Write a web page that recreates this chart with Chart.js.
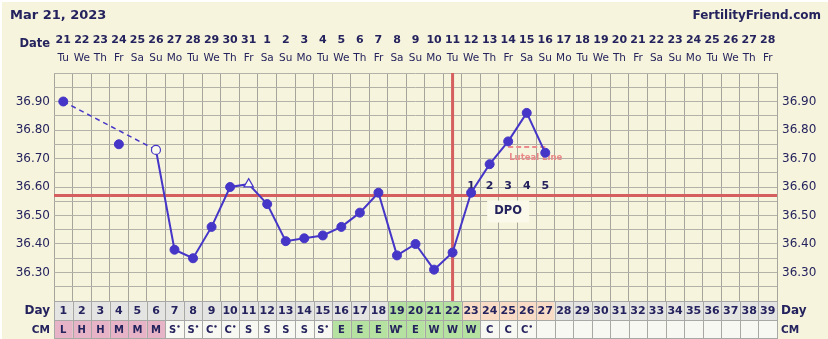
<!DOCTYPE html>
<html>
<head>
<meta charset="utf-8">
<script src="https://cdn.jsdelivr.net/npm/chart.js@4.4.0/dist/chart.umd.min.js"></script>
<style>
    html, body { margin: 0; padding: 0; background: #fff; }
    #wrap { position: relative; width: 828px; height: 339px; }
</style>
</head>
<body>
<div id="wrap"><canvas id="bbt-chart"></canvas></div>
<script>
// BBT chart - Mar 21, 2023 cycle

// =================== DATA ===================
const chartDate = 'Mar 21, 2023';
const siteName = 'FertilityFriend.com';

const dayLabels = ['1', '2', '3', '4', '5', '6', '7', '8', '9', '10', '11', '12', '13', '14', '15', '16', '17', '18', '19', '20',
    '21', '22', '23', '24', '25', '26', '27', '28', '29', '30', '31', '32', '33', '34', '35', '36', '37', '38', '39'];

const dateLabels = ['21', '22', '23', '24', '25', '26', '27', '28', '29', '30', '31', '1', '2', '3', '4', '5', '6', '7', '8', '9',
    '10', '11', '12', '13', '14', '15', '16', '17', '18', '19', '20', '21', '22', '23', '24', '25', '26', '27', '28'];

const weekdayLabels = ['Tu', 'We', 'Th', 'Fr', 'Sa', 'Su', 'Mo', 'Tu', 'We', 'Th', 'Fr', 'Sa', 'Su', 'Mo', 'Tu', 'We', 'Th', 'Fr', 'Sa', 'Su',
    'Mo', 'Tu', 'We', 'Th', 'Fr', 'Sa', 'Su', 'Mo', 'Tu', 'We', 'Th', 'Fr', 'Sa', 'Su', 'Mo', 'Tu', 'We', 'Th', 'Fr'];

// Temperatures (°C), null = no reading
const temps = [36.90, null, null, null, null, 36.73, 36.38, 36.35, 36.46, 36.60,
    36.61, 36.54, 36.41, 36.42, 36.43, 36.46, 36.51, 36.58, 36.36, 36.40,
    36.31, 36.37, 36.58, 36.68, 36.76, 36.86, 36.72, null, null, null,
    null, null, null, null, null, null, null, null, null];

// Discarded reading (not joined to the line)
const discardedTemps = [null, null, null, 36.75, null, null, null, null, null, null,
    null, null, null, null, null, null, null, null, null, null,
    null, null, null, null, null, null, null, null, null, null,
    null, null, null, null, null, null, null, null, null];

const openPointDays = [6];
const trianglePointDays = [11];

const cmCodes = ['L', 'H', 'H', 'M', 'M', 'M', 'S*', 'S*', 'C*', 'C*', 'S', 'S', 'S', 'S', 'S*', 'E', 'E', 'E', 'W*', 'E',
    'W', 'W', 'W', 'C', 'C', 'C*', '', '', '', '', '', '', '', '', '', '', '', '', ''];

const fertileDays = [19, 20, 21, 22];
const dpoLabels = ['', '', '', '', '', '', '', '', '', '', '', '', '', '', '', '', '', '', '', '',
    '', '', '1', '2', '3', '4', '5', '', '', '', '', '', '', '', '', '', '', '', ''];

const coverline = 36.57;
const ovulationDay = 22;
const lutealLine = [null, null, null, null, null, null, null, null, null, null,
    null, null, null, null, null, null, null, null, null, null,
    null, null, null, null, 36.74, 36.74, 36.74, null, null, null,
    null, null, null, null, null, null, null, null, null];

const tempTickLabels = [36.30, 36.40, 36.50, 36.60, 36.70, 36.80, 36.90];
const tempMin = 36.20;
const tempMax = 37.00;

// =================== STYLE ===================
const FONT = "'DejaVu Sans', Verdana, sans-serif";
const CREAM = '#f6f4dc';
const NAVY = '#25235e';
const BLUE = '#4636c8';
const RED = '#d55f5f';
const GRID = '#b3b2a8';

function tickLabel(value) {
    const v = Math.round(value * 100) / 100;
    return tempTickLabels.some(t => Math.abs(t - v) < 0.001) ? v.toFixed(2) : '';
}

function drawText(ctx, text, x, y, font, color, align) {
    ctx.font = font;
    ctx.fillStyle = color;
    ctx.textAlign = align || 'center';
    ctx.textBaseline = 'middle';
    ctx.fillText(text, x, y);
}

// =================== PLUGIN ===================
const ffPlugin = {
    id: 'ffChart',
    beforeDraw(chart) {
        const ctx = chart.ctx;
        ctx.save();
        ctx.fillStyle = '#fff';
        ctx.fillRect(0, 0, chart.width, chart.height);
        ctx.fillStyle = CREAM;
        ctx.fillRect(2, 2, chart.width - 2, chart.height - 2);
        ctx.restore();
    },
    beforeDatasetsDraw(chart) {
        const ctx = chart.ctx;
        const area = chart.chartArea;
        const x = chart.scales.x;
        const y = chart.scales.y;
        ctx.save();

        // Coverline
        const cy = y.getPixelForValue(coverline);
        ctx.strokeStyle = RED;
        ctx.lineWidth = 3;
        ctx.beginPath();
        ctx.moveTo(area.left, cy);
        ctx.lineTo(area.right, cy);
        ctx.stroke();

        // Ovulation line
        const ox = x.getPixelForValue(ovulationDay - 1);
        ctx.beginPath();
        ctx.moveTo(ox, area.top);
        ctx.lineTo(ox, area.bottom);
        ctx.stroke();

        // DPO label box
        const firstDpo = dpoLabels.findIndex(d => d !== '');
        const lastDpo = dpoLabels.length - 1 - [...dpoLabels].reverse().findIndex(d => d !== '');
        const mid = (x.getPixelForValue(firstDpo) + x.getPixelForValue(lastDpo)) / 2;
        const by = cy + 15;
        ctx.fillStyle = '#fbfaea';
        ctx.fillRect(mid - 21, by - 10, 42, 22);
        drawText(ctx, 'DPO', mid, by, 'bold 11.5px ' + FONT, NAVY);

        // Luteal line label
        const lStart = lutealLine.findIndex(v => v !== null);
        const ly = y.getPixelForValue(lutealLine[lStart]);
        drawText(ctx, 'Luteal Line', x.getPixelForValue(lStart) + 1, ly + 11, 'bold 8.5px ' + FONT, '#e98888', 'left');

        // DPO numbers
        dpoLabels.forEach((d, i) => {
            if (d) drawText(ctx, d, x.getPixelForValue(i), cy - 9, 'bold 11px ' + FONT, NAVY);
        });
        ctx.restore();
    },
    afterDraw(chart) {
        const ctx = chart.ctx;
        const area = chart.chartArea;
        const x = chart.scales.x;
        const half = (x.getPixelForValue(1) - x.getPixelForValue(0)) / 2;
        ctx.save();

        // Header
        drawText(ctx, chartDate, 10, 16, 'bold 13px ' + FONT, NAVY, 'left');
        drawText(ctx, siteName, 821, 16, 'bold 12px ' + FONT, NAVY, 'right');

        // Date rows
        drawText(ctx, 'Date', 50, 44, 'bold 11.5px ' + FONT, NAVY, 'right');
        dateLabels.forEach((d, i) => {
            const cx = x.getPixelForValue(i);
            drawText(ctx, d, cx, 40, 'bold 11px ' + FONT, NAVY);
            drawText(ctx, weekdayLabels[i], cx, 58, '10.5px ' + FONT, NAVY);
        });

        // Day / CM table
        const rowH = 19;
        const top = area.bottom;
        dayLabels.forEach((d, i) => {
            const left = x.getPixelForValue(i) - half;
            const day = i + 1;
            let dayBg = '#e4e4e2';
            if (fertileDays.includes(day)) dayBg = '#b5e2a0';
            else if (dpoLabels[i]) dayBg = '#f8dcc6';
            const code = cmCodes[i];
            let cmBg = '#f8f8f2';
            if (/^[LHM]/.test(code)) cmBg = '#e6b4c6';
            else if (/^[EW]/.test(code)) cmBg = '#b5e2a0';
            ctx.fillStyle = dayBg;
            ctx.fillRect(left, top, half * 2, rowH);
            ctx.fillStyle = cmBg;
            ctx.fillRect(left, top + rowH, half * 2, rowH);
        });
        ctx.strokeStyle = '#a8a8a6';
        ctx.lineWidth = 1;
        ctx.beginPath();
        for (let i = 0; i <= dayLabels.length; i++) {
            const lx = Math.round(x.getPixelForValue(0) - half + i * half * 2) + 0.5;
            ctx.moveTo(lx, top);
            ctx.lineTo(lx, top + rowH * 2);
        }
        [top + 0.5, top + rowH + 0.5, top + rowH * 2 - 0.5].forEach(ly => {
            ctx.moveTo(area.left, ly);
            ctx.lineTo(area.right, ly);
        });
        ctx.stroke();

        dayLabels.forEach((d, i) => {
            const cx = x.getPixelForValue(i);
            drawText(ctx, d, cx, top + 10, 'bold 11px ' + FONT, NAVY);
            const code = cmCodes[i];
            if (!code) return;
            const letter = code.replace('*', '');
            if (code.includes('*')) {
                drawText(ctx, letter, cx - 2, top + rowH + 10, 'bold 10px ' + FONT, NAVY);
                drawText(ctx, '\u2022', cx + 4, top + rowH + 7, 'bold 7px ' + FONT, NAVY);
            } else {
                drawText(ctx, letter, cx, top + rowH + 10, 'bold 10px ' + FONT, NAVY);
            }
        });
        drawText(ctx, 'Day', 50, top + 10, 'bold 12px ' + FONT, NAVY, 'right');
        drawText(ctx, 'CM', 50, top + rowH + 10, 'bold 10.5px ' + FONT, NAVY, 'right');
        drawText(ctx, 'Day', area.right + 4, top + 10, 'bold 12px ' + FONT, NAVY, 'left');
        drawText(ctx, 'CM', area.right + 4, top + rowH + 10, 'bold 10.5px ' + FONT, NAVY, 'left');

        ctx.restore();
    }
};

// =================== CHART ===================
function isOpen(ctx) { return openPointDays.includes(ctx.dataIndex + 1); }
function isTriangle(ctx) { return trianglePointDays.includes(ctx.dataIndex + 1); }
function isGap(ctx) { return ctx.p0.skip || ctx.p1.skip; }

const tempAxis = {
    min: tempMin,
    max: tempMax,
    grid: { color: GRID, lineWidth: 1, drawTicks: false },
    border: { display: false },
    ticks: {
        stepSize: 0.05,
        autoSkip: false,
        color: NAVY,
        font: { family: FONT, size: 12 },
        callback: tickLabel
    }
};

new Chart(document.getElementById('bbt-chart'), {
    type: 'line',
    data: {
        labels: dayLabels,
        datasets: [
            {
                label: 'Temperature',
                data: temps,
                borderColor: BLUE,
                borderWidth: 2,
                spanGaps: true,
                tension: 0,
                segment: {
                    borderDash: ctx => (isGap(ctx) ? [5, 4] : undefined),
                    borderWidth: ctx => (isGap(ctx) ? 1.5 : undefined)
                },
                pointStyle: ctx => (isTriangle(ctx) ? 'triangle' : 'circle'),
                pointRadius: ctx => (isTriangle(ctx) ? 5.5 : 4.5),
                pointBorderWidth: ctx => (isOpen(ctx) || isTriangle(ctx) ? 1.2 : 1),
                pointBorderColor: BLUE,
                pointBackgroundColor: ctx => (isOpen(ctx) || isTriangle(ctx) ? '#fbfaf0' : BLUE),
                order: 1
            },
            {
                label: 'Discarded',
                data: discardedTemps,
                showLine: false,
                pointRadius: 4.5,
                pointBackgroundColor: BLUE,
                pointBorderColor: BLUE,
                order: 2
            },
            {
                label: 'Luteal Line',
                data: lutealLine,
                borderColor: '#ec8c8c',
                borderWidth: 2,
                borderDash: [5, 3],
                pointRadius: 0,
                order: 3
            }
        ]
    },
    options: {
        responsive: true,
        maintainAspectRatio: false,
        animation: false,
        layout: { padding: { top: 73, bottom: 38, left: 0, right: 0 } },
        plugins: {
            legend: { display: false },
            tooltip: { enabled: false }
        },
        scales: {
            x: {
                type: 'category',
                offset: true,
                grid: { offset: true, color: '#a6a59c', drawTicks: false },
                border: { display: false },
                ticks: { display: false },
                afterFit(scale) { scale.height = 0; }
            },
            y: {
                ...tempAxis,
                position: 'left',
                ticks: { ...tempAxis.ticks, padding: 4 },
                afterFit(scale) { scale.width = 54; }
            },
            y2: {
                ...tempAxis,
                position: 'right',
                grid: { drawOnChartArea: false, drawTicks: false },
                ticks: { ...tempAxis.ticks, padding: 5 },
                afterFit(scale) { scale.width = 51; }
            }
        }
    },
    plugins: [ffPlugin]
});
</script>
</body>
</html>
